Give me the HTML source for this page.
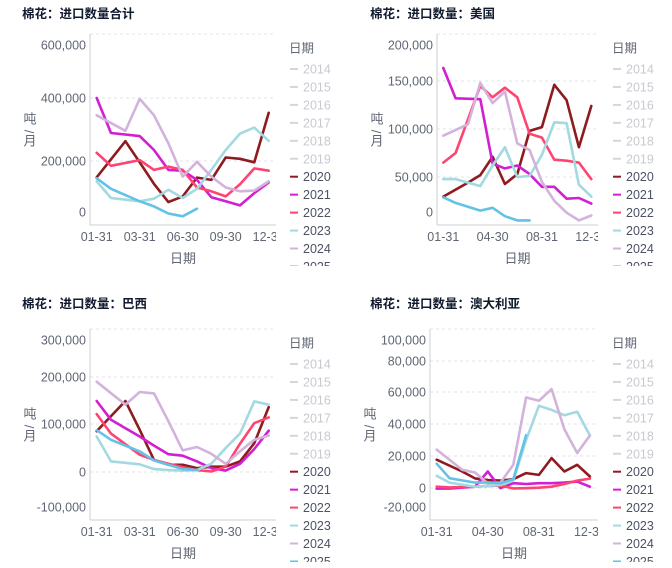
<!DOCTYPE html>
<html><head><meta charset="utf-8"><style>
body{margin:0;background:#fff;width:672px;height:568px;overflow:hidden;font-family:"Liberation Sans","Noto Sans CJK SC",sans-serif}
svg{display:block}
text{font-family:"Liberation Sans","Noto Sans CJK SC",sans-serif}
</style></head><body>
<svg id="root" width="672" height="568" viewBox="0 0 672 568"></svg>
<script>
const categories=["01-31","02-28","02-29","03-31","04-30","05-31","06-30","07-31","08-31","09-30","10-31","11-30","12-31"];
const years=["2014","2015","2016","2017","2018","2019","2020","2021","2022","2023","2024","2025"];
const leapIdx=[0,2,3,4,5,6,7,8,9,10,11,12];
const normIdx=[0,1,3,4,5,6,7,8,9,10,11,12];
// total (thousand tonnes)
const tot2020=[136,263,195,110,39,61,135,126,211,207,195,353];
const tot2021=[400,289,279,235,165,162,126,58,42,26,74,116];
const tot2022=[226,181,203,165,178,165,96,81,61,109,171,162];
const tot2023=[120,55,42,52,87,55,91,165,235,287,306,264];
const tot2024=[345,296,397,345,256,139,197,139,96,81,84,120];
const tot2025=[132,91,42,22,-6,-17,13];
const totTicks=[600,400,200,0];
// USA
const us2020=[22,42,52,71,40,53,98,102,146,130,81,124];
const us2021=[168,132,131,64,59,62,53,36,36,19,20,12];
const us2022=[65,75,145,133,143,133,95,91,68,67,65,47];
const us2023=[47,47,37,62,81,50,51,73,107,106,39,22];
const us2024=[93,105,148,127,139,85,78,43,16,-1,-12,-5];
const us2025=[21,13,2,6,-6,-12,-12];
const usTicks=[200,150,100,50,0];
// Brazil
const br2020=[85,149,88,25,15,15,8,11,11,22,60,136];
const br2021=[149,109,74,55,37,34,22,8,3,17,48,86];
const br2022=[121,80,36,25,17,10,4,1,11,59,102,114];
const br2023=[74,22,16,6,4,3,4,17,50,80,148,141];
const br2024=[190,141,168,165,106,45,52,38,17,43,67,76];
const br2025=[87,67,43,24,15,6,4];
const brTicks=[300,200,100,0,-100];
// Australia
const au2020=[17.7,10.3,6,5,4.6,5.5,9.3,8.2,18.7,10.3,14.5,7.2];
const au2021=[-0.6,-0.6,0.8,10.3,-0.2,3,2.5,3,3,3.4,4,0.8];
const au2022=[0.8,0.4,0.8,1.3,1.5,-0.4,-0.2,0.2,0.8,2.5,4.6,5.9];
const au2023=[7.6,3.4,0.8,1.3,1.9,4.6,30,51.4,48.8,45.5,47.6,32.8];
const au2024=[24,11.4,9.7,3,3.4,14.5,56.6,54.5,61.9,36.6,21.9,32.8];
const au2025=[15.2,6.1,3.4,3.4,3,5.5,33];
const auTicks=[100,80,60,40,20,0,-20];

const NS="http://www.w3.org/2000/svg";
const root=document.getElementById('root');
const colors={"2020":"#8e1b1e","2021":"#d21fd2","2022":"#ff4472","2023":"#a3d9e0","2024":"#d3b2dc","2025":"#63c2e6"};
function mk(tag,attrs,parent){const e=document.createElementNS(NS,tag);for(const k in attrs)e.setAttribute(k,attrs[k]);(parent||root).appendChild(e);return e;}
function fmt(v){return (v*1000).toLocaleString('en-US');}

function panel(cfg){
  const g=mk('g',{});
  
  
  const t=mk('text',{x:cfg.titleX,y:cfg.oy+18,'font-size':12.5,'font-weight':'bold',fill:'#111a2e'},g);
  t.textContent=cfg.title;
  
  
  const tv=cfg.ticks, tp=cfg.tickPos;
  function y(v){
    for(let i=0;i<tv.length-1;i++){
      if(v<=tv[i]&&v>=tv[i+1]){return tp[i]+(tp[i+1]-tp[i])*(tv[i]-v)/(tv[i]-tv[i+1]);}
    }
    if(v>tv[0])return tp[0]-(v-tv[0])*(tp[1]-tp[0])/(tv[0]-tv[1]);
    const n=tv.length-1;return tp[n]+(tv[n]-v)*(tp[n]-tp[n-1])/(tv[n-1]-tv[n]);
  }
  function x(i){return cfg.x0+cfg.dx*i;}
  mk('line',{x1:cfg.axX,x2:cfg.axR,y1:cfg.top,y2:cfg.top,stroke:'#e6e6ea','stroke-dasharray':'3,3'},g);
  tv.forEach((v,i)=>{
    if(cfg.grid.includes(v)){
      const gl=mk('line',{x1:cfg.axX,x2:cfg.axR,y1:y(v),y2:y(v),stroke:'#e3e3e8','stroke-dasharray':'3,3'},g);
      
      
    }
    const lt=mk('text',{x:cfg.axX-4,y:y(v)+4.5,'font-size':12.5,fill:'#5f6673','text-anchor':'end'},g);
    lt.textContent=fmt(v);
    
    
  });
  mk('line',{x1:cfg.axX,x2:cfg.axX,y1:cfg.top,y2:cfg.bottom,stroke:'#cfcfd4'},g);
  mk('line',{x1:cfg.axX,x2:cfg.axR,y1:cfg.bottom,y2:cfg.bottom,stroke:'#cfcfd4'},g);
  const cid='clip'+cfg.name;
  const cp=mk('clipPath',{id:cid},g);mk('rect',{x:0,y:cfg.oy,width:cfg.axR,height:280},cp);
  const xg=mk('g',{'clip-path':'url(#'+cid+')'},g);
  for(let i=0;i<categories.length;i+=cfg.every){
    const xt=mk('text',{x:x(i),y:cfg.bottom+16,'font-size':12.5,fill:'#5f6673','text-anchor':'middle'},xg);
    xt.textContent=categories[i];
    
    
  }
  const xtt=mk('text',{x:(cfg.axX+cfg.axR)/2,y:cfg.bottom+38,'font-size':13,fill:'#5f6673','text-anchor':'middle'},g);
  xtt.textContent='日期';
  
  
  const cy=(cfg.top+cfg.bottom)/2;
  const yx=cfg.axX-60;
  const ytg=mk('g',{},g);
  
  
  const c1=mk('text',{x:yx,y:cy-6,'font-size':13,fill:'#5f6673','text-anchor':'middle'},ytg);c1.textContent='吨';
  const c2=mk('text',{x:0,y:0,'font-size':13,fill:'#5f6673','text-anchor':'middle',transform:`translate(${yx+4},${cy+2}) rotate(-90)`},ytg);c2.textContent='/';
  const c3=mk('text',{x:yx,y:cy+16,'font-size':13,fill:'#5f6673','text-anchor':'middle'},ytg);c3.textContent='月';
  const lines=mk('g',{},g);
  Object.keys(cfg.series).forEach(yr=>{
    const vals=cfg.series[yr];
    const idx=(yr==="2020"||yr==="2024")?leapIdx:normIdx;
    const d=vals.map((v,k)=>(k?'L':'M')+x(idx[k]).toFixed(1)+','+y(v).toFixed(1)).join(' ');
    const p=mk('path',{d:d,fill:'none',stroke:colors[yr],'stroke-width':2.6,'stroke-linejoin':'round','stroke-linecap':'round'},lines);
    
    
  });
  const lcid='lclip'+cfg.name;
  const lcp=mk('clipPath',{id:lcid},g);mk('rect',{x:cfg.legX-5,y:cfg.oy,width:80,height:cfg.legClip},lcp);
  const lg=mk('g',{'clip-path':'url(#'+lcid+')'},g);
  
  
  const lh=mk('text',{x:cfg.legX-1,y:cfg.legY+4.5,'font-size':12.5,fill:'#5f6673'},lg);
  lh.textContent='日期';
  years.forEach((yr,i)=>{
    const yy=cfg.legY+21+17.95*i;
    const c=colors[yr]||'#d4d6dc';
    const e=mk('g',{},lg);
    
    
    mk('line',{x1:cfg.legX,x2:cfg.legX+8,y1:yy,y2:yy,stroke:c,'stroke-width':2},e);
    const tt=mk('text',{x:cfg.legX+13,y:yy+4.5,'font-size':12.5,fill:colors[yr]?'#4a5263':'#c8cad1'},e);
    tt.textContent=yr;
  });
}

panel({name:'total',title:'棉花：进口数量合计',oy:0,titleX:22,axX:90,axR:276,top:34,bottom:225,
  x0:96.7,dx:14.33,every:3,ticks:totTicks,tickPos:[45,98,161,212],grid:[400,200],
  legX:290,legY:48,legClip:266,
  series:{"2020":tot2020,"2021":tot2021,"2022":tot2022,"2023":tot2023,"2024":tot2024,"2025":tot2025}});
panel({name:'usa',title:'棉花：进口数量：美国',oy:0,titleX:370,axX:437,axR:598,top:34,bottom:225,
  x0:443.3,dx:12.33,every:4,ticks:usTicks,tickPos:[45,81,129,177,212],grid:[150,100,50],
  legX:613,legY:48,legClip:266,
  series:{"2020":us2020,"2021":us2021,"2022":us2022,"2023":us2023,"2024":us2024,"2025":us2025}});
panel({name:'brazil',title:'棉花：进口数量：巴西',oy:290,titleX:22,axX:90,axR:276,top:329,bottom:520,
  x0:96.7,dx:14.33,every:3,ticks:brTicks,tickPos:[340,377,424,472,507],grid:[200,100,0],
  legX:290,legY:343,legClip:272,
  series:{"2020":br2020,"2021":br2021,"2022":br2022,"2023":br2023,"2024":br2024,"2025":br2025}});
panel({name:'australia',title:'棉花：进口数量：澳大利亚',oy:290,titleX:370,axX:430,axR:598,top:329,bottom:520,
  x0:436.7,dx:12.77,every:4,ticks:auTicks,tickPos:[340,361,392,424,456,488,507],grid:[80,60,40,20,0],
  legX:613,legY:343,legClip:272,
  series:{"2020":au2020,"2021":au2021,"2022":au2022,"2023":au2023,"2024":au2024,"2025":au2025}});
</script>
</body></html>
